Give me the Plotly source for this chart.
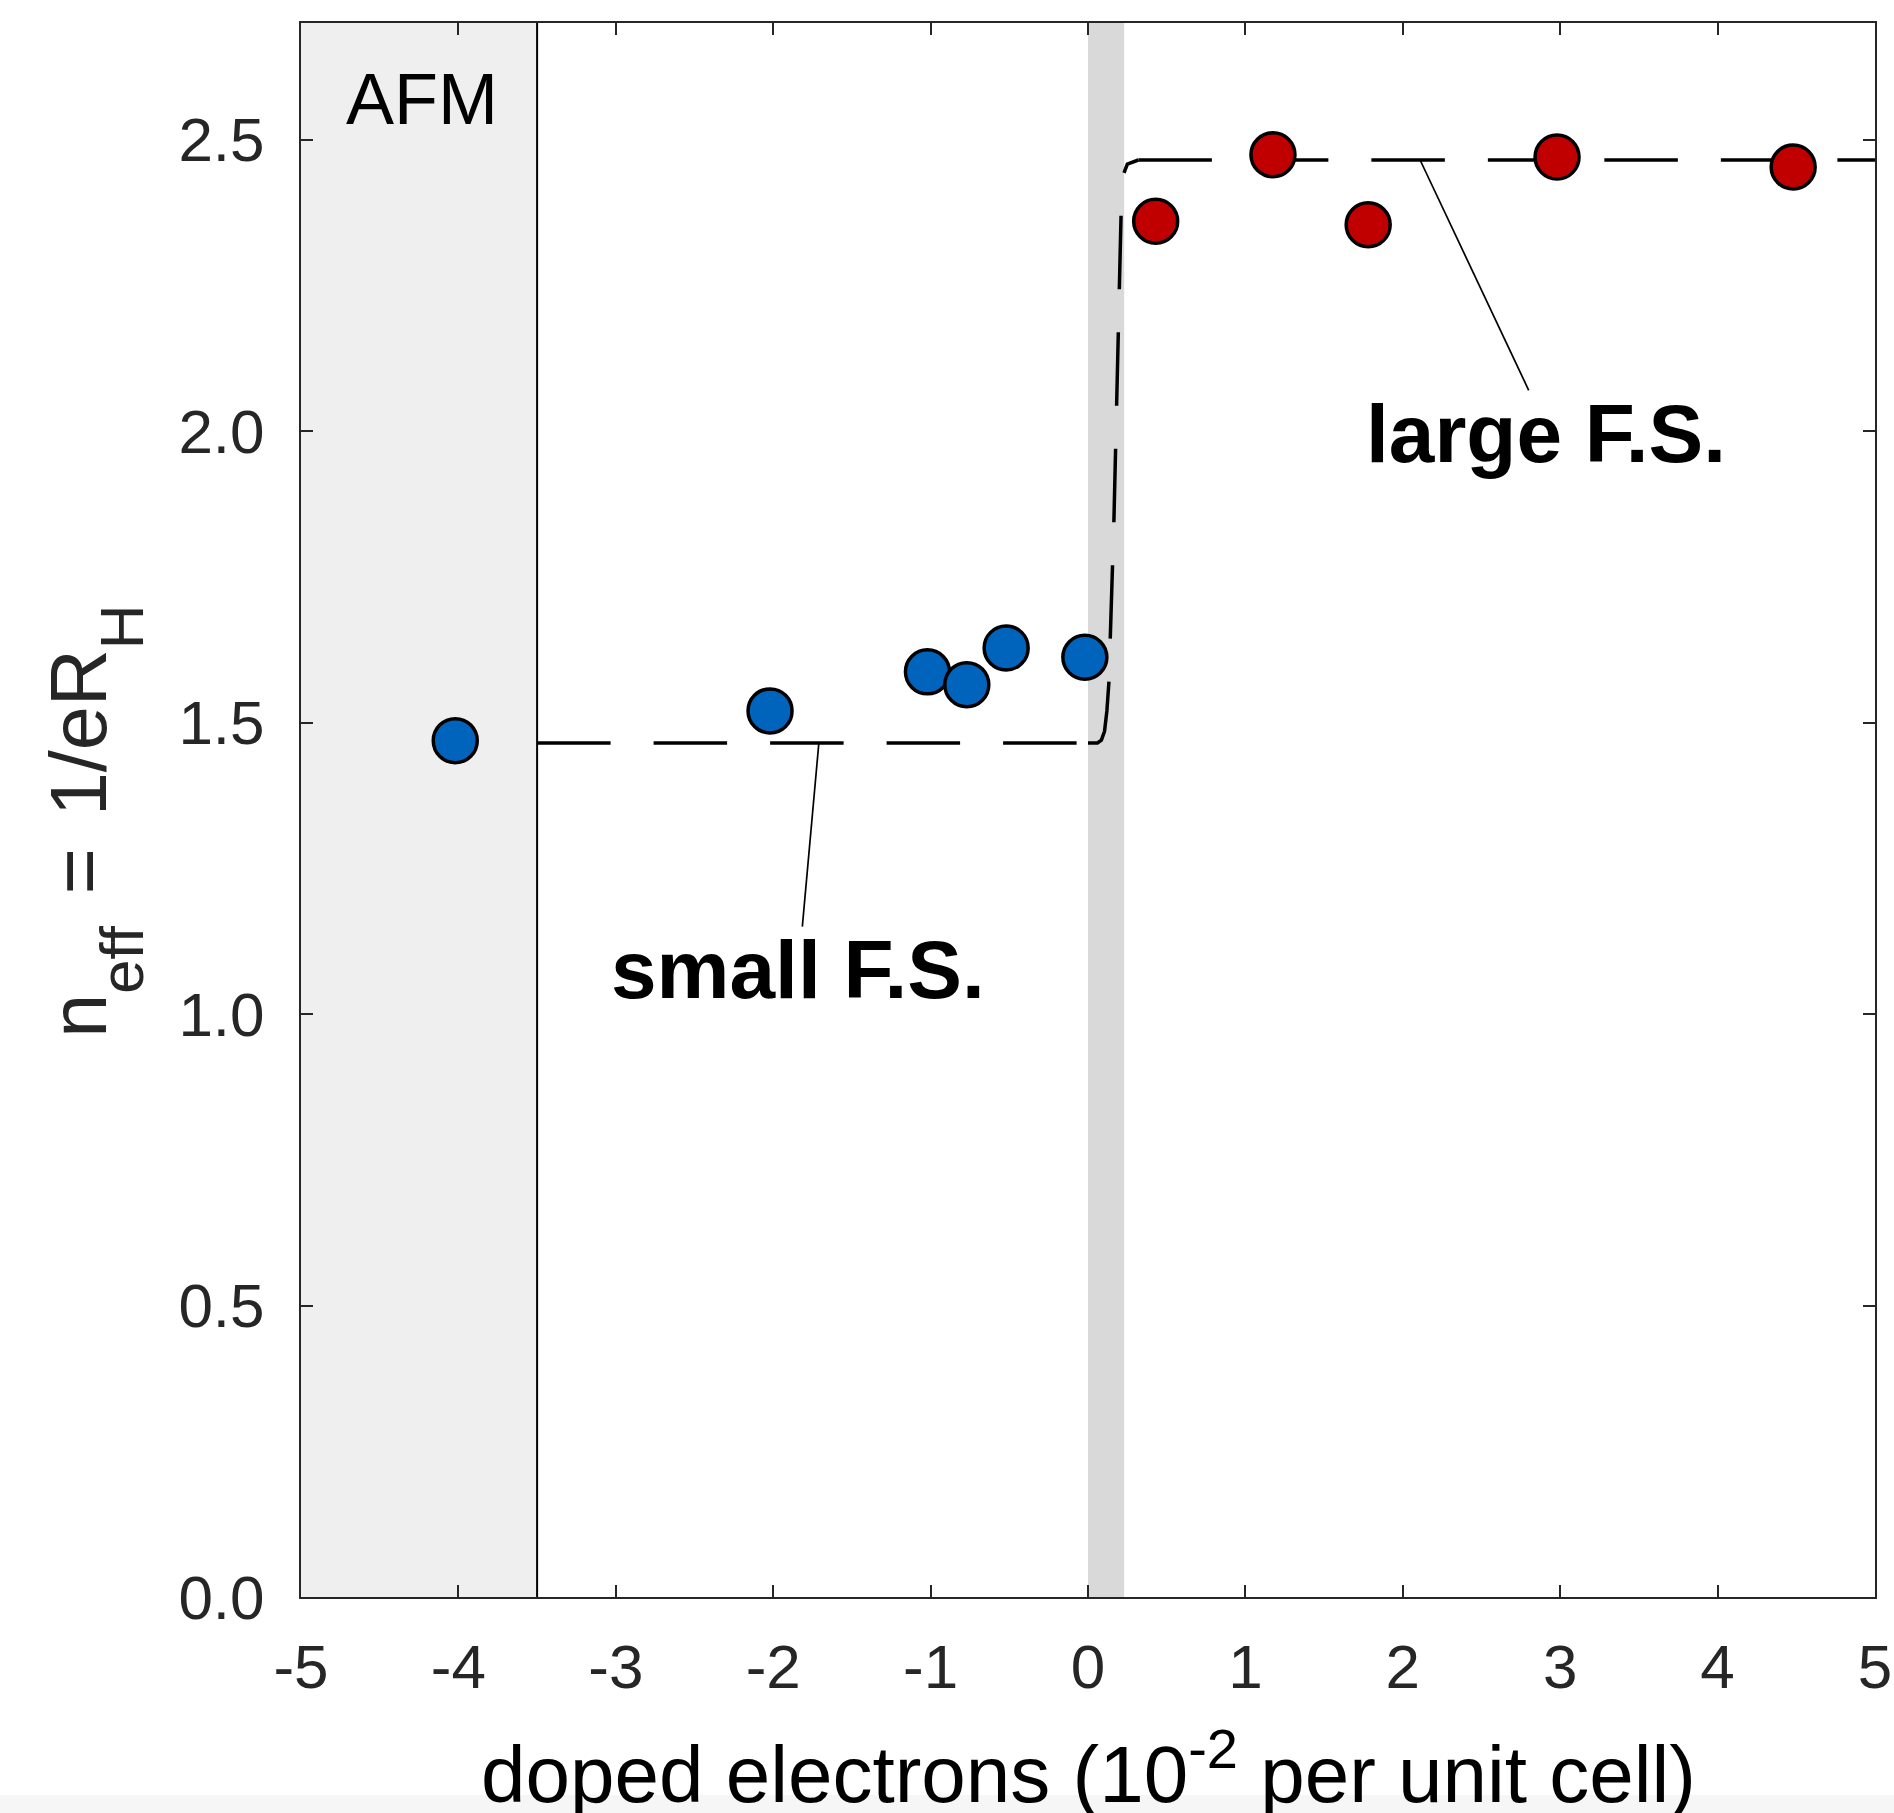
import plotly.graph_objects as go

# Hall number data: n_eff vs doped electrons (10^-2 per unit cell)
small_x = [-4.02, -2.02, -1.02, -0.77, -0.52, -0.02]
small_y = [1.469, 1.520, 1.587, 1.565, 1.628, 1.612]

large_x = [0.43, 1.175, 1.78, 2.98, 4.48]
large_y = [2.360, 2.474, 2.354, 2.470, 2.453]

# Guide curve, drawn in three pieces: small-FS plateau, the jump, large-FS plateau
guide_low_x = [-3.5, 0.0]
guide_low_y = [1.465, 1.465]
guide_step_x = [0.0, 0.06, 0.085, 0.105, 0.12, 0.133, 0.165, 0.21, 0.225, 0.25, 0.32]
guide_step_y = [1.465, 1.465, 1.470, 1.485, 1.520, 1.570, 1.850, 2.370, 2.440, 2.458, 2.465]
guide_high_x = [0.32, 5.0]
guide_high_y = [2.465, 2.465]

x_ticks = [-5, -4, -3, -2, -1, 0, 1, 2, 3, 4, 5]
x_tick_text = ["-5", "-4", "-3", "-2", "-1", "0", "1", "2", "3", "4", "5"]
y_ticks = [0.0, 0.5, 1.0, 1.5, 2.0, 2.5]
y_tick_text = ["0.0", "0.5", "1.0", "1.5", "2.0", "2.5"]

AFM_EDGE = -3.5
BAND = (0.0, 0.23)

FONT = "Liberation Sans, Arial, Helvetica, sans-serif"
INK = "#262626"
DASH = dict(color="black", width=3.5, dash="73.5px,43px")

fig = go.Figure()

for gx, gy in [(guide_low_x, guide_low_y),
               (guide_step_x, guide_step_y),
               (guide_high_x, guide_high_y)]:
    fig.add_trace(go.Scatter(x=gx, y=gy, mode="lines", line=DASH,
                             hoverinfo="skip", showlegend=False))

fig.add_trace(go.Scatter(
    x=small_x, y=small_y, mode="markers",
    marker=dict(size=44, color="#0064BC", line=dict(color="black", width=3.5)),
    showlegend=False,
))
fig.add_trace(go.Scatter(
    x=large_x, y=large_y, mode="markers",
    marker=dict(size=44, color="#C00000", line=dict(color="black", width=3.5)),
    showlegend=False,
))

shapes = [
    # AFM region
    dict(type="rect", xref="x", yref="y", x0=-5, x1=AFM_EDGE, y0=0, y1=2.7,
         fillcolor="#EFEFEF", line=dict(width=0), layer="below"),
    dict(type="line", xref="x", yref="y", x0=AFM_EDGE, x1=AFM_EDGE, y0=0, y1=2.7,
         line=dict(color="black", width=2), layer="below"),
    # transition band
    dict(type="rect", xref="x", yref="y", x0=BAND[0], x1=BAND[1], y0=0, y1=2.7,
         fillcolor="#D9D9D9", line=dict(width=0), layer="below"),
    # leader lines for the labels
    dict(type="line", xref="x", yref="y", x0=2.11, y0=2.465, x1=2.80, y1=2.07,
         line=dict(color="black", width=1.7)),
    dict(type="line", xref="x", yref="y", x0=-1.71, y0=1.465, x1=-1.815, y1=1.150,
         line=dict(color="black", width=1.7)),
    # pale strip along the bottom edge of the page
    dict(type="rect", xref="paper", yref="paper",
         x0=-301 / 1574, x1=1 + 19 / 1574, y0=-216 / 1574, y1=-198 / 1574,
         fillcolor="#F6F6F6", line=dict(width=0), layer="below"),
]

# y-axis title: a large base size sets how far the subscripts drop,
# while the spans set the size the glyphs are actually drawn at
MAIN = "<span style='font-size:79px'>{}</span>"
SUB = "<sub><span style='font-size:62px'>{}</span></sub>"
WIDE_SPACE = "<span style='font-size:115px'> </span>"
y_title = (MAIN.format("n") + SUB.format("eff") + WIDE_SPACE + MAIN.format("=")
           + WIDE_SPACE + MAIN.format("1/eR") + SUB.format("H"))

annotations = [
    dict(x=-4.23, y=2.569, xref="x", yref="y", text="AFM", showarrow=False,
         font=dict(family=FONT, size=72, color="black"), xanchor="center", yanchor="middle"),
    dict(x=2.91, y=1.995, xref="x", yref="y", text="<b>large F.S.</b>", showarrow=False,
         font=dict(family=FONT, size=82, color="black"), xanchor="center", yanchor="middle"),
    dict(x=-1.842, y=1.076, xref="x", yref="y", text="<b>small F.S.</b>", showarrow=False,
         font=dict(family=FONT, size=82, color="black"), xanchor="center", yanchor="middle"),
    # axis titles
    dict(x=0.5, y=-171 / 1574, xref="paper", yref="paper",
         text="doped electrons (10<sup>-2</sup> per unit cell)", showarrow=False,
         font=dict(family=FONT, size=80, color="black"), xanchor="center", yanchor="middle"),
    dict(x=-0.141, y=0.4925, xref="paper", yref="paper",
         text=y_title, showarrow=False, textangle=-90,
         font=dict(family=FONT, size=176, color=INK), xanchor="center", yanchor="middle"),
]

axis_common = dict(
    showgrid=False, zeroline=False, showline=True, linecolor=INK, linewidth=2,
    mirror="ticks", ticks="inside", ticklen=12, tickwidth=2, tickcolor=INK,
    tickfont=dict(family=FONT, size=62, color=INK), automargin=False,
)

fig.update_layout(
    template="none",
    width=1894, height=1813, autosize=False,
    margin=dict(l=301, r=19, t=23, b=216, pad=0),
    paper_bgcolor="white", plot_bgcolor="white",
    showlegend=False,
    shapes=shapes, annotations=annotations,
    xaxis=dict(range=[-5, 5], tickvals=x_ticks, ticktext=x_tick_text,
               ticklabelstandoff=15, **axis_common),
    yaxis=dict(range=[0, 2.7], tickvals=y_ticks, ticktext=y_tick_text,
               ticklabelstandoff=22, **axis_common),
)

fig.write_html("out.html")
